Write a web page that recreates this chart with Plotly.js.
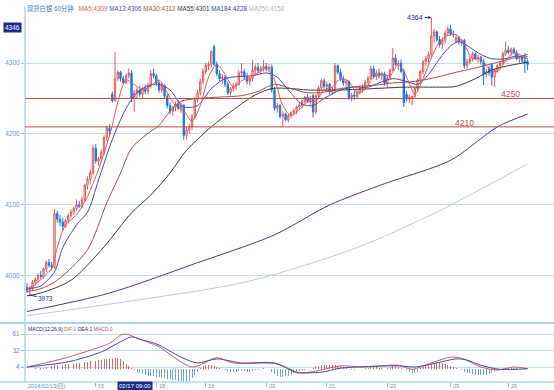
<!DOCTYPE html>
<html><head><meta charset="utf-8">
<script src="https://cdn.plot.ly/plotly-3.0.1.min.js"></script>
<style>html,body{margin:0;padding:0;background:#fff;}#chart{width:554px;height:390px;}</style>
</head><body><div id="chart"></div>
<script>
// ---- 60-minute OHLC bars (bar index 0..182) ----
const openP = [
3984,3980,3982,3991,3995,4001,3999,4010,4019,4015,
4012,4088,4080,4076,4070,4078,4085,4090,4095,4100,
4098,4108,4128,4136,4146,4180,4162,4165,4174,4195,
4208,4256,4247,4278,4287,4278,4272,4282,4286,4250,
4258,4262,4256,4264,4260,4268,4285,4282,4272,4262,
4268,4253,4240,4232,4238,4242,4236,4240,4198,4206,
4210,4225,4248,4258,4274,4288,4296,4298,4323,4298,
4285,4278,4280,4270,4258,4264,4268,4270,4286,4288,
4280,4274,4278,4290,4294,4289,4292,4295,4292,4294,
4262,4236,4240,4225,4228,4220,4226,4230,4233,4238,
4241,4246,4252,4246,4254,4231,4254,4265,4275,4267,
4270,4259,4262,4296,4287,4277,4272,4274,4251,4255,
4253,4259,4264,4266,4273,4279,4292,4281,4286,4282,
4285,4272,4279,4290,4307,4298,4300,4288,4256,4249,
4250,4253,4264,4276,4288,4302,4306,4312,4338,4344,
4333,4326,4332,4342,4348,4341,4330,4336,4330,4332,
4296,4302,4306,4313,4306,4308,4302,4284,4292,4298,
4280,4290,4296,4300,4313,4318,4315,4319,4314,4306,
4308,4303,4302];
const highP = [
3990,3985,3994,3998,4004,4007,4012,4022,4024,4020,
4094,4092,4086,4082,4080,4088,4094,4098,4108,4106,
4112,4130,4140,4150,4184,4186,4168,4178,4198,4212,
4214,4260,4316,4290,4289,4282,4285,4292,4290,4262,
4266,4268,4266,4270,4272,4290,4292,4285,4276,4272,
4270,4256,4244,4240,4246,4248,4244,4242,4210,4214,
4228,4252,4262,4278,4292,4300,4302,4318,4326,4302,
4290,4284,4283,4274,4266,4272,4274,4290,4300,4292,
4286,4280,4304,4298,4300,4296,4304,4300,4298,4298,
4266,4244,4242,4232,4230,4228,4232,4236,4240,4244,
4248,4254,4256,4254,4256,4256,4268,4278,4278,4274,
4272,4266,4300,4298,4292,4282,4278,4276,4258,4260,
4262,4268,4270,4276,4282,4296,4296,4290,4292,4288,
4288,4282,4292,4321,4312,4304,4305,4292,4260,4256,
4254,4266,4278,4290,4304,4310,4316,4364,4348,4346,
4338,4336,4346,4352,4354,4346,4340,4338,4334,4334,
4306,4310,4316,4316,4312,4310,4306,4292,4296,4300,
4292,4298,4302,4316,4330,4324,4322,4322,4318,4310,
4310,4314,4305];
const lowP = [
3976,3973,3979,3986,3990,3996,3996,4006,4012,4008,
4010,4075,4070,4064,4068,4074,4082,4086,4092,4096,
4095,4105,4122,4130,4142,4158,4155,4160,4170,4190,
4198,4244,4245,4275,4274,4270,4270,4278,4245,4231,
4250,4252,4250,4256,4256,4264,4279,4268,4258,4258,
4250,4236,4228,4226,4232,4234,4230,4192,4192,4200,
4206,4222,4244,4254,4270,4284,4290,4294,4296,4282,
4274,4270,4266,4255,4254,4260,4262,4268,4280,4276,
4270,4268,4274,4284,4286,4284,4288,4288,4288,4258,
4232,4230,4222,4210,4218,4216,4222,4226,4228,4234,
4236,4242,4244,4240,4223,4228,4250,4262,4264,4262,
4256,4255,4258,4284,4274,4268,4266,4248,4246,4248,
4250,4255,4258,4262,4270,4276,4278,4276,4278,4276,
4268,4266,4276,4288,4296,4290,4286,4238,4246,4244,
4241,4250,4260,4272,4284,4296,4300,4308,4328,4330,
4322,4320,4328,4338,4338,4336,4328,4326,4324,4292,
4292,4298,4302,4304,4300,4298,4269,4280,4282,4268,
4266,4286,4292,4298,4310,4312,4310,4312,4304,4300,
4300,4286,4290];
const closeP = [
3980,3982,3991,3995,4001,3999,4010,4019,4015,4012,
4088,4080,4076,4070,4078,4085,4090,4095,4100,4098,
4108,4128,4136,4146,4180,4162,4165,4174,4195,4208,
4204,4247,4278,4287,4278,4272,4282,4286,4250,4258,
4262,4256,4264,4260,4268,4285,4282,4272,4262,4268,
4253,4240,4232,4238,4242,4236,4240,4198,4206,4210,
4225,4248,4258,4274,4288,4296,4298,4316,4298,4285,
4278,4280,4270,4258,4264,4268,4270,4286,4288,4280,
4274,4278,4290,4294,4289,4292,4295,4292,4294,4262,
4236,4240,4225,4228,4220,4226,4230,4233,4238,4241,
4246,4252,4246,4250,4231,4254,4265,4275,4267,4270,
4259,4262,4296,4287,4277,4272,4274,4251,4255,4253,
4259,4264,4266,4273,4279,4292,4281,4286,4282,4285,
4272,4279,4290,4307,4298,4300,4288,4244,4249,4252,
4253,4264,4276,4288,4302,4306,4312,4338,4344,4333,
4326,4332,4342,4348,4341,4340,4336,4330,4332,4296,
4302,4306,4313,4306,4308,4302,4284,4288,4286,4280,
4290,4296,4300,4313,4318,4315,4319,4314,4306,4308,
4303,4300,4298];

// ---- moving averages at sample bars ----
const ma5X  = [0,3,6,9,11,14,18,22,26,29,31,33,36,39,42,45,48,51,54,57,60,63,66,69,72,75,78,81,84,87,90,93,96,99,102,105,108,111,114,117,120,123,126,129,132,135,138,141,144,147,150,153,156,159,162,165,168,171,174,177,180,182];
const ma5Y  = [3982,3988,3999,4011,4040,4072,4086,4112,4150,4185,4212,4245,4276,4270,4262,4268,4276,4258,4240,4232,4218,4240,4280,4298,4284,4266,4275,4280,4286,4292,4276,4240,4226,4234,4245,4246,4262,4266,4278,4274,4258,4263,4280,4284,4282,4298,4280,4256,4278,4307,4330,4339,4340,4326,4306,4306,4292,4288,4303,4315,4310,4309];
const ma13X = [0,5,10,13,18,22,26,31,36,40,44,48,52,57,62,67,72,77,82,87,91,95,100,104,108,114,119,124,128,133,138,142,146,150,154,157,161,165,169,174,178,182];
const ma13Y = [3982,3986,4006,4040,4072,4090,4135,4192,4236,4258,4268,4270,4262,4238,4240,4264,4278,4281,4282,4286,4280,4262,4242,4240,4250,4262,4266,4266,4272,4278,4274,4270,4284,4306,4324,4330,4322,4312,4306,4306,4310,4306];
const ma30X = [0,5,11,22,29,34,38,44,48,52,56,62,70,78,84,90,96,102,108,114,120,127,133,138,144,150,156,162,168,175,182];
const ma30Y = [3978,3982,3994,4037,4103,4145,4180,4201,4212,4232,4246,4250,4252,4254,4260,4270,4264,4258,4259,4264,4267,4269,4272,4273,4276,4281,4287,4292,4298,4305,4312];
const ma55X = [0,5,16,28,38,45,52,58,67,75,83,89,96,102,114,126,138,150,156,163,169,176,182];
const ma55Y = [3972,3976,3994,4041,4089,4114,4145,4177,4210,4234,4255,4264,4264,4262,4262,4264,4266,4266,4267,4278,4290,4297,4301];
const ma184X = [0,30,60,90,110,130,154,171,182];
const ma184Y = [3950,3976,4016,4058,4100,4130,4163,4210,4228];
const ma250X = [0,40,80,120,150,182];
const ma250Y = [3944,3966,3992,4040,4092,4158];

// ---- MACD(12,26,9) ----
const difX = [0,11,15,23,30,34,36,40,45,48,60,69,75,90,95,98,104,114,122,135,140,147,154,158,165,171,177,182];
const difY = [4,16,21,33,45,59,61,54,45,39,4,20,11,10,2,-6,-4,6,4,7,0,11,21,19,4,-1,4,1];
const deaX = [0,15,27,33,38,41,45,48,56,62,69,78,90,98,107,114,135,141,149,156,160,165,172,182];
const deaY = [4,13,30,45,56,52,47,42,21,11,18,11,11,-5,-5,2,6,4,11,18,16,7,0,1];
const macdHist = [
0,1,1,2,2,3,3,4,4,5,
7,7,8,8,9,9,10,10,11,11,
12,12,13,14,15,15,16,16,17,17,
18,18,19,19,17,14,10,6,2,-2,
-4,-6,-8,-10,-11,-12,-12,-13,-14,-15,
-15,-16,-17,-18,-19,-20,-21,-22,-22,-20,
-15,-10,-4,3,6,8,8,7,6,4,
2,0,-2,-3,-4,-4,-4,-3,-3,-3,
-4,-4,-3,-2,-1,1,2,1,0,-4,
-8,-11,-13,-13,-12,-11,-9,-6,-4,-3,
-2,-1,0,1,3,5,6,7,8,8,
8,8,7,6,5,4,2,0,-1,-1,
0,1,1,2,3,4,4,4,3,2,
1,2,4,5,5,4,3,1,-2,-5,
-6,-6,-4,2,4,6,8,10,11,12,
12,11,10,8,6,4,2,1,-2,-4,
-6,-7,-8,-9,-10,-10,-9,-9,-8,-7,
-5,-3,-1,1,2,3,3,2,2,1,
1,0,0];

// ---- axis ticks / labels / levels ----
const priceTicks = [4000,4100,4200,4300];
const macdTicks = [4,32,61];
const dateTickIdx = [0,25,32,47,65,87,109,131,154,175];
const dateTickText = ['2014/02/13(四)','15','02/17 09:00','18','19','20','21','22','25','26'];
const levels = [4250,4210];
const levelLabelIdx = [171.5,155];
const highMark = {idx:147, value:4364};
const lowMark = {idx:1, value:3973};
const legendVals = {MA5:4309, MA13:4306, MA30:4312, MA55:4301, MA184:4228, MA250:4158};

const idx = closeP.map((_, i) => i);
const F = 'Liberation Sans, Arial, Noto Sans CJK SC, sans-serif';
const C = {ma5:'#e0585c', ma13:'#4a4aa8', ma30:'#b04a4a', ma55:'#3a3a3a', ma184:'#3c3c98', ma250:'#c8c8c8',
           up:'#e05a5a', dn:'#1f78dc', grid:'#bfdfec', axis:'#8cc4de', lbl:'#5f95c4', navy:'#1b2a8a', lvl:'#c44a4a'};

const maLine = (x, y, color) => ({type:'scatter', mode:'lines', x:x, y:y, xaxis:'x', yaxis:'y',
  line:{color:color, width:1, shape:'spline', smoothing:0.8}, hoverinfo:'skip'});

const traces = [
  maLine(ma250X, ma250Y, C.ma250),
  maLine(ma184X, ma184Y, C.ma184),
  {type:'candlestick', x:idx, open:openP, high:highP, low:lowP, close:closeP, xaxis:'x', yaxis:'y',
   increasing:{line:{color:C.up, width:1}, fillcolor:'#fff0f0'},
   decreasing:{line:{color:C.dn, width:1}, fillcolor:C.dn}, whiskerwidth:0},
  maLine(ma55X, ma55Y, C.ma55),
  maLine(ma30X, ma30Y, C.ma30),
  maLine(ma13X, ma13Y, C.ma13),
  maLine(ma5X, ma5Y, C.ma5),
  {type:'bar', x:idx, y:macdHist, xaxis:'x', yaxis:'y2', width:0.35,
   marker:{color:macdHist.map(v => v >= 0 ? '#d86a6a' : '#6fa9cc'), line:{width:0}}},
  {type:'scatter', mode:'lines', x:difX, y:difY, xaxis:'x', yaxis:'y2', line:{color:'#c86060', width:1, shape:'spline', smoothing:0.8}},
  {type:'scatter', mode:'lines', x:deaX, y:deaY, xaxis:'x', yaxis:'y2', line:{color:'#4a4aa8', width:1, shape:'spline', smoothing:0.8}}
];

const H = 390, T = 15, B = 8, PH = H - T - B;   // plot area pixels
const py = p => (H - B - p) / PH;               // pixel y -> paper y
const px = p => (p - 25) / 529;                 // pixel x -> paper x

const sp = (c, t) => `<span style="color:${c}">${t}</span>`;
const titleText = sp('#3a78c8','现货白银 60分钟') + '   ' +
  sp(C.ma5, 'MA5:' + legendVals.MA5) + ' ' + sp(C.ma13, 'MA13:' + legendVals.MA13) + ' ' +
  sp(C.ma30, 'MA30:' + legendVals.MA30) + ' ' + sp(C.ma55, 'MA55:' + legendVals.MA55) + ' ' +
  sp(C.ma184, 'MA184:' + legendVals.MA184) + ' ' + sp('#b8b8b8', 'MA250:' + legendVals.MA250);
const macdText = sp(C.navy,'MACD(12,26,9)') + ' ' + sp('#c85050','DIF:' + difY[difY.length-1]) + ' ' +
  sp(C.navy,'DEA:' + deaY[deaY.length-1]) + ' ' + sp('#c85050','MACD:' + macdHist[macdHist.length-1]);

const annotations = [
  {xref:'paper', yref:'paper', x:px(25), y:py(8), xanchor:'left', yanchor:'middle', showarrow:false, text:titleText, font:{family:F, size:6.3}},
  {xref:'paper', yref:'paper', x:px(26), y:py(329), xanchor:'left', yanchor:'middle', showarrow:false, text:macdText, font:{family:F, size:5}},
  {xref:'paper', yref:'paper', x:px(3), y:py(27), xanchor:'left', yanchor:'middle', showarrow:false, text:'4346', bgcolor:C.navy, borderpad:1, font:{family:F, size:6.5, color:'#fff'}},
  {x:highMark.idx, y:highMark.value, xref:'x', yref:'y', text:String(highMark.value), showarrow:true, ax:-16, ay:0, arrowhead:2, arrowsize:0.6, arrowwidth:1, arrowcolor:C.navy, font:{family:F, size:7, color:C.navy}},
  {x:lowMark.idx, y:lowMark.value, xref:'x', yref:'y', text:String(lowMark.value), showarrow:true, ax:16, ay:3, arrowhead:0, arrowwidth:1, arrowcolor:C.navy, font:{family:F, size:6.5, color:C.navy}}
];
levels.forEach((lv, i) => annotations.push({x:levelLabelIdx[i], y:lv, xref:'x', yref:'y', xanchor:'left', yanchor:'middle', yshift:4, showarrow:false, text:String(lv), font:{family:F, size:8.5, color:C.lvl}}));
dateTickIdx.forEach((ti, i) => {
  const boxed = dateTickText[i].indexOf(':') >= 0;
  annotations.push({x:ti + (i === 0 ? 0 : 0.6), y:py(385.5), xref:'x', yref:'paper', xanchor:'left', yanchor:'middle', showarrow:false,
    text:dateTickText[i], bgcolor: boxed ? C.navy : 'rgba(0,0,0,0)', borderpad: boxed ? 1 : 0,
    font:{family:F, size: boxed ? 6 : 5.6, color: boxed ? '#fff' : C.lbl}});
});

const shapes = [
  {type:'line', xref:'paper', yref:'paper', x0:0, x1:0, y0:0, y1:py(6), line:{color:C.axis, width:1}},
  {type:'line', xref:'paper', yref:'paper', x0:px(0), x1:1, y0:py(323), y1:py(323), line:{color:'#a8d3e6', width:2}},
  {type:'line', xref:'paper', yref:'paper', x0:px(0), x1:1, y0:0, y1:0, line:{color:C.axis, width:1}}
];
levels.forEach(lv => shapes.push({type:'line', xref:'paper', yref:'y', x0:0, x1:1, y0:lv, y1:lv, line:{color:C.lvl, width:1}}));

const layout = {
  width:554, height:390, margin:{l:25, r:0, t:T, b:B}, paper_bgcolor:'#fff', plot_bgcolor:'#fff',
  showlegend:false, hovermode:false, bargap:0,
  xaxis:{range:[-0.727,191.6], anchor:'y2', showgrid:false, zeroline:false, showline:false,
         tickvals:dateTickIdx.slice(1).filter((_, i) => i !== 1), ticks:'outside', ticklen:4, tickcolor:C.axis,
         showticklabels:false, rangeslider:{visible:false}, fixedrange:true, automargin:false},
  yaxis:{domain:[py(322),1], range:[3935.2,4367.6], tickvals:priceTicks, ticktext:priceTicks.map(String),
         showgrid:true, gridcolor:C.grid, gridwidth:1, zeroline:false, showline:false, ticks:'outside', ticklen:3,
         tickcolor:C.axis, tickfont:{family:F, size:6.5, color:C.lbl}, automargin:false, fixedrange:true},
  yaxis2:{domain:[0,py(324)], range:[-21.9,78.3], tickvals:macdTicks, ticktext:macdTicks.map(String),
          showgrid:true, gridcolor:C.grid, gridwidth:1, zeroline:false, showline:false, ticks:'outside', ticklen:3,
          tickcolor:C.axis, tickfont:{family:F, size:6.5, color:C.lbl}, automargin:false, fixedrange:true},
  annotations:annotations, shapes:shapes
};

Plotly.newPlot('chart', traces, layout, {displayModeBar:false, staticPlot:true});
</script></body></html>
